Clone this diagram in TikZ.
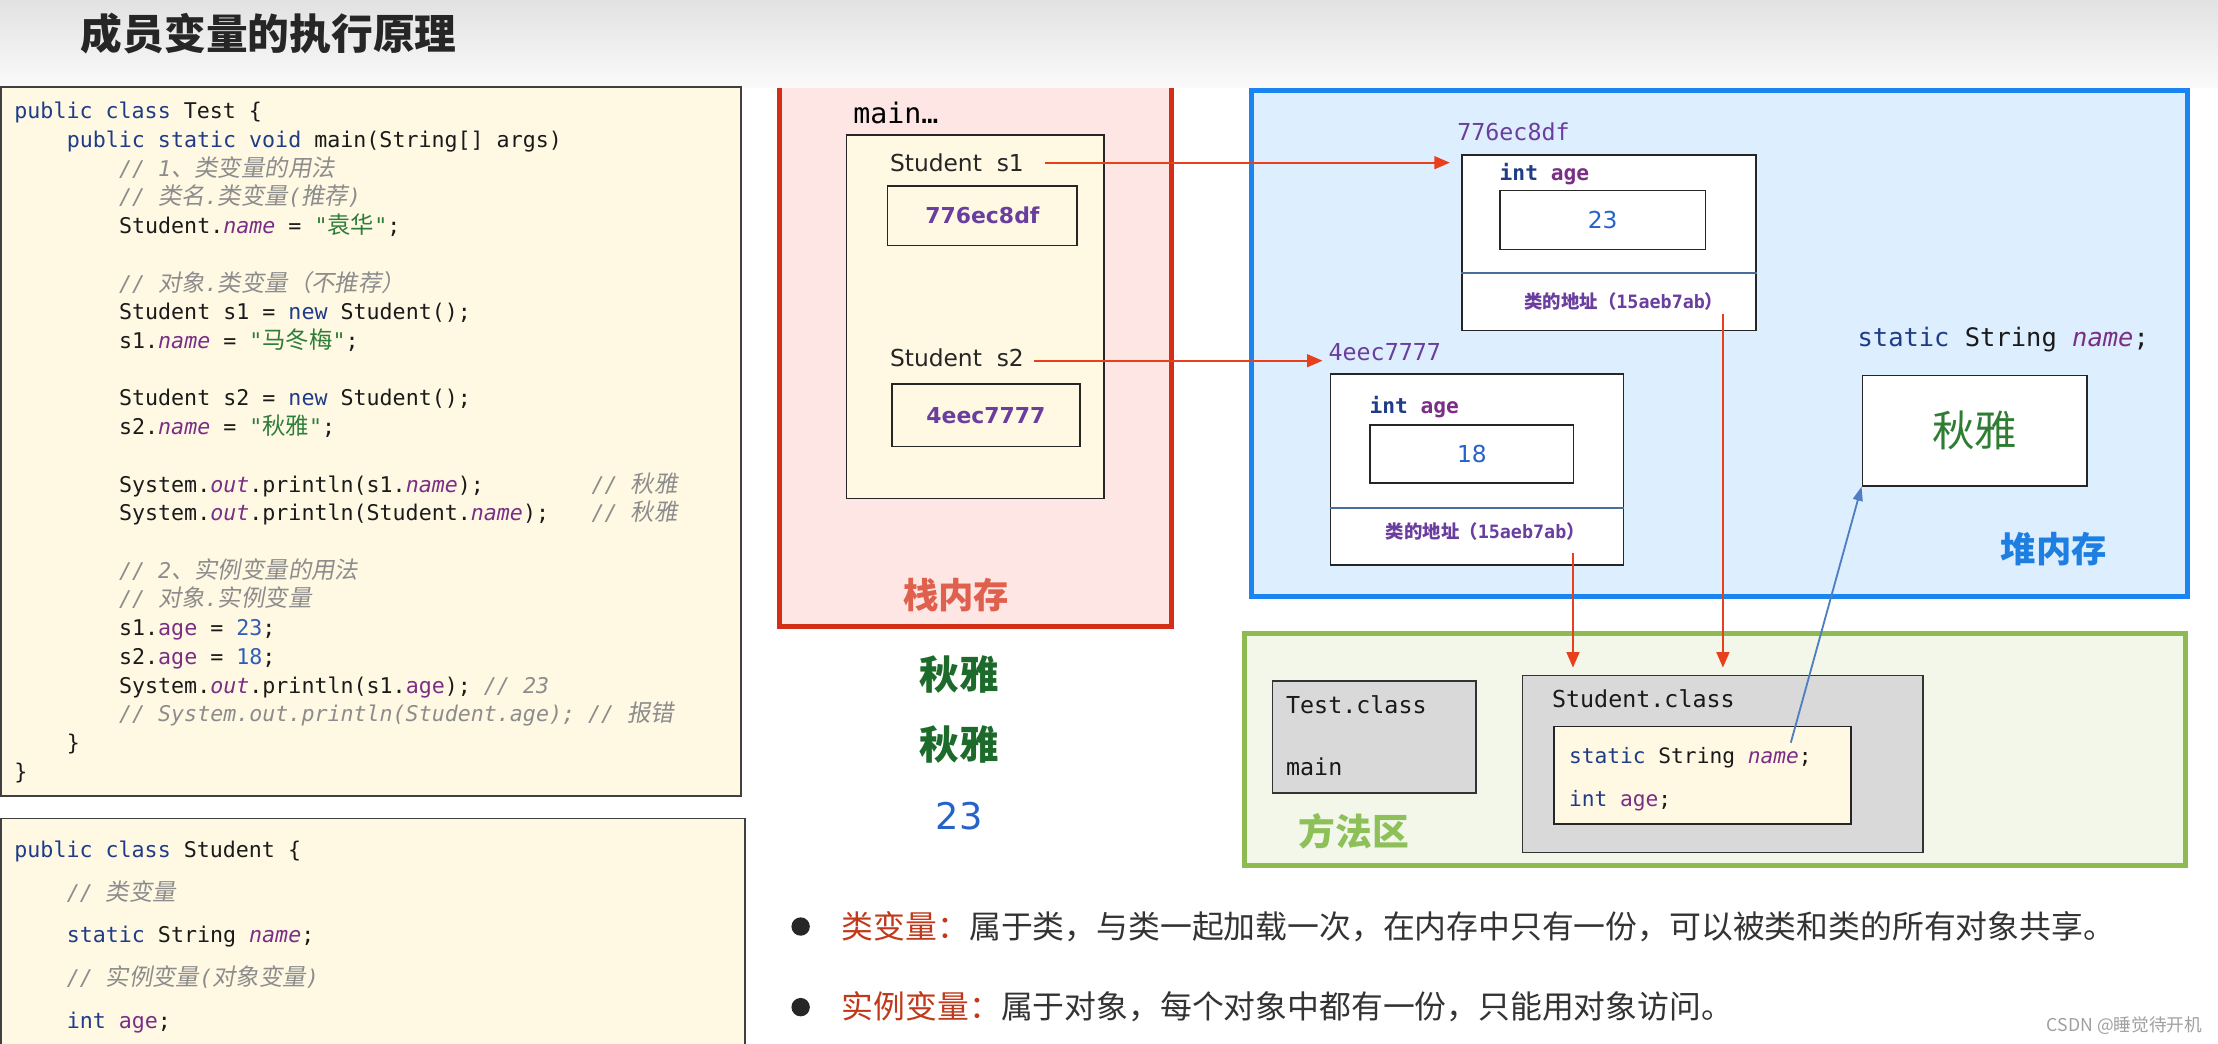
\documentclass[tikz,border=0pt]{standalone}
\usepackage{fontspec}
\setmainfont{DejaVu Sans}
\setmonofont{DejaVu Sans Mono}
\newfontfamily\cjk{Noto Sans CJK SC}
\newfontfamily\cjkc[Scale=1.08]{Noto Sans CJK SC}
\newfontfamily\cjki[Scale=1.08,FakeSlant=0.18]{Noto Sans CJK SC}
\usetikzlibrary{arrows.meta}
\definecolor{codefg}{HTML}{1A1A1A}
\definecolor{kwc}{HTML}{1F3C88}
\definecolor{fldc}{HTML}{7A2E86}
\definecolor{strc}{HTML}{2E7D3A}
\definecolor{numc}{HTML}{2F5DB8}
\definecolor{cmtc}{HTML}{8C8C8C}
\definecolor{codebg}{HTML}{FFF9E4}
\definecolor{stackbg}{HTML}{FDE6E3}
\definecolor{stackred}{HTML}{D32F16}
\definecolor{stacktxt}{HTML}{E0604E}
\definecolor{heapbg}{HTML}{DDEEFF}
\definecolor{heapblue}{HTML}{1A85F0}
\definecolor{heaptxt}{HTML}{1E7FE2}
\definecolor{methbg}{HTML}{F2F7EA}
\definecolor{methgreen}{HTML}{8DBB52}
\definecolor{methtxt}{HTML}{8EC05A}
\definecolor{graybox}{HTML}{D9D9D9}
\definecolor{purp}{HTML}{6A3E9E}
\definecolor{arrred}{HTML}{E8401C}
\definecolor{arrblue}{HTML}{4F7FC0}
\definecolor{dkgreen}{HTML}{1C6B2A}
\definecolor{qygreen}{HTML}{2E7D32}
\definecolor{blue23}{HTML}{2563C8}
\definecolor{bred}{HTML}{C0391B}
\definecolor{btext}{HTML}{333333}
\definecolor{wmc}{HTML}{A0A0A0}
\definecolor{titletop}{HTML}{E2E2E2}
\definecolor{titlebot}{HTML}{FAFAFA}
\definecolor{divc}{HTML}{4A6E9A}
\newcommand\ckw[1]{\textcolor{kwc}{#1}}
\newcommand\cfld[1]{\textcolor{fldc}{\itshape #1}}
\newcommand\cage[1]{\textcolor{fldc}{#1}}
\newcommand\cstr[1]{\textcolor{strc}{#1}}
\newcommand\cnum[1]{\textcolor{numc}{#1}}
\newcommand\ccmt[1]{\textcolor{cmtc}{\itshape #1}}
\newcommand\czh[1]{{\cjkc #1}}
\newcommand\czi[1]{{\cjki #1}}
\begin{document}
\begin{tikzpicture}[x=1pt,y=-1pt,
  code/.style={anchor=base west, inner sep=0pt, text=codefg, font=\ttfamily\fontsize{15.3}{18}\selectfont},
  codebox/.style={anchor=north west, fill=codebg, draw=black!75, line width=1.2pt, inner sep=0pt},
  plainbox/.style={anchor=north west, fill=white, draw=black!85, line width=1pt, inner sep=0pt},
  yelbox/.style={anchor=north west, fill=codebg, draw=black!85, line width=1pt, inner sep=0pt},
  greybox/.style={anchor=north west, fill=graybox, draw=black!80, line width=1pt, inner sep=0pt},
  sanslbl/.style={anchor=west, inner sep=0pt, text=black!85, font=\fontsize{16.5}{20}\selectfont},
  monolbl/.style={anchor=west, inner sep=0pt, text=black!90, font=\ttfamily\fontsize{16.5}{20}\selectfont},
  addr/.style={inner sep=0pt, text=purp, font=\fontsize{13}{16}\selectfont},
  bigzh/.style={inner sep=0pt, font=\cjk\bfseries\fontsize{25}{30}\selectfont},
  redarr/.style={draw=arrred, line width=1.6pt, -{Triangle[length=11pt,width=9pt]}},
  bluearr/.style={draw=arrblue, line width=1.3pt, -{Triangle[length=10pt,width=7pt]}},
  bullet/.style={circle, fill=black!85, inner sep=0pt, minimum size=13pt},
  btxt/.style={anchor=west, inner sep=0pt, text=btext, font=\cjk\fontsize{22.5}{26}\selectfont}]
\useasboundingbox (0,0) rectangle (1568,738);
\clip (0,0) rectangle (1568,738);
\fill[white] (0,0) rectangle (1568,738);
% title bar
\shade[top color=titletop, bottom color=titlebot] (0,0) rectangle (1568,62);
\node[anchor=west, inner sep=0pt, text=black!85, font=\cjk\bfseries\fontsize{29.5}{34}\selectfont] (title) at (57,24) {成员变量的执行原理};

% ---------- code box 1 ----------
\node[codebox, minimum width=523pt, minimum height=501pt] (cb1) at (0,61) {};
\node[code] (l0) at (10,{84+20.3*0}) {\ckw{public} \ckw{class} Test \{};
\node[code] (l1) at (47,{84+20.3*1}) {\ckw{public} \ckw{static} \ckw{void} main(String[] args)};
\node[code] (l2) at (84,{84+20.3*2}) {\ccmt{// 1\czi{、类变量的用法}}};
\node[code] (l3) at (84,{84+20.3*3}) {\ccmt{// \czi{类名}.\czi{类变量}(\czi{推荐})}};
\node[code] (l4) at (84,{84+20.3*4}) {Student.\cfld{name} = \cstr{"\czh{袁华}"};};
\node[code] (l6) at (84,{84+20.3*6}) {\ccmt{// \czi{对象}.\czi{类变量（不推荐）}}};
\node[code] (l7) at (84,{84+20.3*7}) {Student s1 = \ckw{new} Student();};
\node[code] (l8) at (84,{84+20.3*8}) {s1.\cfld{name} = \cstr{"\czh{马冬梅}"};};
\node[code] (l10) at (84,{84+20.3*10}) {Student s2 = \ckw{new} Student();};
\node[code] (l11) at (84,{84+20.3*11}) {s2.\cfld{name} = \cstr{"\czh{秋雅}"};};
\node[code] (l13) at (84,{84+20.3*13}) {System.\cfld{out}.println(s1.\cfld{name});};
\node[code] (l13c) at (418,{84+20.3*13}) {\ccmt{// \czi{秋雅}}};
\node[code] (l14) at (84,{84+20.3*14}) {System.\cfld{out}.println(Student.\cfld{name});};
\node[code] (l14c) at (418,{84+20.3*14}) {\ccmt{// \czi{秋雅}}};
\node[code] (l16) at (84,{84+20.3*16}) {\ccmt{// 2\czi{、实例变量的用法}}};
\node[code] (l17) at (84,{84+20.3*17}) {\ccmt{// \czi{对象}.\czi{实例变量}}};
\node[code] (l18) at (84,{84+20.3*18}) {s1.\cage{age} = \cnum{23};};
\node[code] (l19) at (84,{84+20.3*19}) {s2.\cage{age} = \cnum{18};};
\node[code] (l20) at (84,{84+20.3*20}) {System.\cfld{out}.println(s1.\cage{age}); \ccmt{// 23}};
\node[code] (l21) at (84,{84+20.3*21}) {\ccmt{// System.out.println(Student.age); // \czi{报错}}};
\node[code] (l22) at (47,{84+20.3*22}) {\}};
\node[code] (l23) at (10,{84+20.3*23}) {\}};

% ---------- code box 2 ----------
\node[codebox, minimum width=526pt, minimum height=200pt] (cb2) at (0,578) {};
\node[code] (m0) at (10,{606+30.3*0}) {\ckw{public} \ckw{class} Student \{};
\node[code] (m1) at (47,{606+30.3*1}) {\ccmt{// \czi{类变量}}};
\node[code] (m2) at (47,{606+30.3*2}) {\ckw{static} String \cfld{name};};
\node[code] (m3) at (47,{606+30.3*3}) {\ccmt{// \czi{实例变量}(\czi{对象变量})}};
\node[code] (m4) at (47,{606+30.3*4}) {\ckw{int} \cage{age};};

% ---------- stack ----------
\fill[stackbg] (551,62) rectangle (828,443);
\draw[stackred, line width=3.2pt] (551,62) -- (551,443) -- (828,443) -- (828,62);
\node[anchor=west, inner sep=0pt, text=black, font=\ttfamily\fontsize{20}{24}\selectfont] (mainlbl) at (603,80) {main…};
\node[yelbox, minimum width=182pt, minimum height=257pt] (frame) at (598,95) {};
\node[sanslbl] (s1) at (629,115) {Student~~s1};
\node[yelbox, minimum width=134pt, minimum height=42pt, text=purp, font=\bfseries\fontsize{15.5}{18}\selectfont] (v1) at (627,131) {776ec8df};
\node[sanslbl] (s2) at (629,253) {Student~~s2};
\node[yelbox, minimum width=133pt, minimum height=44pt, text=purp, font=\bfseries\fontsize{15.5}{18}\selectfont] (v2) at (630,271) {4eec7777};
\node[bigzh, text=stacktxt] (stk) at (676,421) {栈内存};

% outputs
\node[inner sep=0pt, text=dkgreen, font=\cjk\bfseries\fontsize{28}{32}\selectfont] (o1) at (678,477) {秋雅};
\node[inner sep=0pt, text=dkgreen, font=\cjk\bfseries\fontsize{28}{32}\selectfont] (o2) at (678,526) {秋雅};
\node[inner sep=0pt, text=blue23, font=\fontsize{26}{30}\selectfont] (o3) at (678,577) {23};

% ---------- heap ----------
\node[anchor=north west, fill=heapbg, draw=heapblue, line width=3.5pt, inner sep=0pt, minimum width=662pt, minimum height=358pt] (heap) at (883,62) {};
\node[anchor=west, inner sep=0pt, text=purp, font=\ttfamily\fontsize{16.5}{20}\selectfont] (lbl1) at (1030,93) {776ec8df};
\node[plainbox, minimum width=208pt, minimum height=124pt] (obj1) at (1033,109) {};
\draw[divc, line width=1.2pt] (obj1.west |- 0,193) -- (obj1.east |- 0,193);
\node[anchor=west, inner sep=0pt, font=\ttfamily\bfseries\fontsize{15}{18}\selectfont] (ia1) at (1060,123) {\textcolor{kwc}{int} \textcolor{fldc}{age}};
\node[plainbox, minimum width=145pt, minimum height=42pt, text=blue23, font=\fontsize{16.5}{20}\selectfont] (in1) at (1060,134) {23};
\node[addr] (ad1) at (1148,213) {{\cjk\bfseries 类的地址（}{\ttfamily\bfseries 15aeb7ab}{\cjk\bfseries ）}};

\node[anchor=west, inner sep=0pt, text=purp, font=\ttfamily\fontsize{16.5}{20}\selectfont] (lbl2) at (939,249) {4eec7777};
\node[plainbox, minimum width=207pt, minimum height=135pt] (obj2) at (940,264) {};
\draw[divc, line width=1.2pt] (obj2.west |- 0,359) -- (obj2.east |- 0,359);
\node[anchor=west, inner sep=0pt, font=\ttfamily\bfseries\fontsize{15}{18}\selectfont] (ia2) at (968,288) {\textcolor{kwc}{int} \textcolor{fldc}{age}};
\node[plainbox, minimum width=144pt, minimum height=41pt, text=blue23, font=\fontsize{16.5}{20}\selectfont] (in2) at (968,300) {18};
\node[addr] (ad2) at (1050,376) {{\cjk\bfseries 类的地址（}{\ttfamily\bfseries 15aeb7ab}{\cjk\bfseries ）}};

\node[anchor=west, inner sep=0pt, text=codefg, font=\ttfamily\fontsize{18}{22}\selectfont] (hsn) at (1313,240) {\ckw{static} String \cfld{name};};
\node[plainbox, minimum width=159pt, minimum height=78pt, text=qygreen, font=\cjk\fontsize{30}{34}\selectfont] (qy) at (1316,265) {秋雅};
\node[bigzh, text=heaptxt] (hp) at (1452,388) {堆内存};

% ---------- method area ----------
\node[anchor=north west, fill=methbg, draw=methgreen, line width=3.5pt, inner sep=0pt, minimum width=665pt, minimum height=164pt] (meth) at (878,446) {};
\node[greybox, minimum width=144pt, minimum height=79pt] (tcls) at (899,481) {};
\node[monolbl] (tc1) at (909,498) {Test.class};
\node[monolbl] (tc2) at (909,542) {main};
\node[bigzh, text=methtxt, font=\cjk\bfseries\fontsize{26}{30}\selectfont] (ma) at (957,588) {方法区};
\node[greybox, minimum width=283pt, minimum height=125pt] (scls) at (1076,477) {};
\node[monolbl] (sc1) at (1097,494) {Student.class};
\node[yelbox, minimum width=210pt, minimum height=69pt] (sin) at (1098,513) {};
\node[anchor=west, inner sep=0pt, text=codefg, font=\ttfamily\fontsize{15}{18}\selectfont] (sf1) at (1109,536) {\ckw{static} String \cfld{name};};
\node[anchor=west, inner sep=0pt, text=codefg, font=\ttfamily\fontsize{15}{18}\selectfont] (sf2) at (1109,566) {\ckw{int} \cage{age};};

% ---------- connectors ----------
\draw[redarr] ([xshift=15pt]s1.east) -- ([xshift=-8pt]obj1.west |- s1.east);
\draw[redarr] ([xshift=7pt]s2.east |- 0,255) -- ([xshift=-4pt]lbl2.west |- 0,255);
\coordinate (c1) at (1218,222);
\coordinate (c2) at (1112,391);
\coordinate (c3) at (1266,525);
\draw[redarr, shorten >=5pt] (c1) -- (c1 |- scls.north);
\draw[redarr, shorten >=5pt] (c2) -- (c2 |- scls.north);
\draw[bluearr] (c3) -- (qy.south west);

% ---------- bullets ----------
\node[bullet] (b1) at (566,655) {};
\node[btxt] (t1) at (595,655) {\textcolor{bred}{类变量：}属于类，与类一起加载一次，在内存中只有一份，可以被类和类的所有对象共享。};
\node[bullet] (b2) at (566,712) {};
\node[btxt] (t2) at (595,712) {\textcolor{bred}{实例变量：}属于对象，每个对象中都有一份，只能用对象访问。};
\node[anchor=east, inner sep=0pt, text=wmc, font=\cjk\fontsize{12.5}{15}\selectfont] (wm) at (1557,725) {CSDN @睡觉待开机};
\end{tikzpicture}
\end{document}
